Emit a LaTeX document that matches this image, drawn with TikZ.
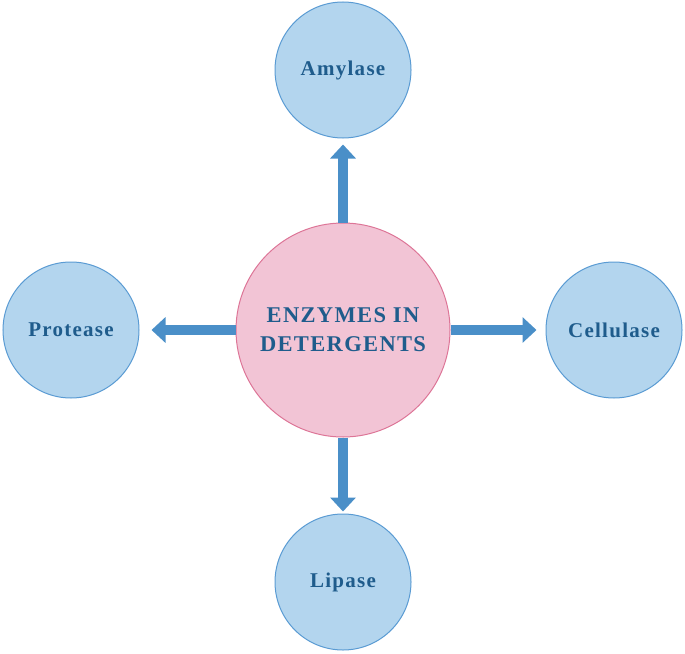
\documentclass[tikz,border=0pt]{standalone}
\usepackage{fontspec}
\setmainfont{Liberation Serif}[LetterSpace=6]
\usetikzlibrary{arrows.meta}
\definecolor{bfill}{HTML}{B3D5EE}
\definecolor{bline}{HTML}{5A9BD3}
\definecolor{arr}{HTML}{4A8FC8}
\definecolor{pfill}{HTML}{F2C4D5}
\definecolor{pline}{HTML}{DD7597}
\definecolor{txt}{HTML}{1F5C8C}
\begin{document}
\begin{tikzpicture}[x=1bp,y=-1bp,
  enz/.style={circle,draw=bline,fill=bfill,line width=1bp,minimum size=136bp,inner sep=0pt,
    font=\fontsize{21bp}{25bp}\selectfont\bfseries,text=txt},
  hub/.style={circle,draw=pline,fill=pfill,line width=1bp,minimum size=214bp,inner sep=0pt,
    font=\fontsize{22.5bp}{29bp}\selectfont\bfseries,text=txt,align=center},
  link/.style={arr,line width=10bp,-{Triangle[width=25bp,length=14bp]}}]
\useasboundingbox (0,0) rectangle (685,654);
\node[hub] (c) at (343,330) {ENZYMES IN\\DETERGENTS};
\node[enz] (a) at (343,70) {Amylase};
\node[enz] (p) at (71,330) {Protease};
\node[enz] (ce) at (614,330) {Cellulase};
\node[enz] (l) at (343,582) {Lipase};
\draw[link,shorten >=6bp] (c.north) -- (a.south);
\draw[link,shorten >=12bp] (c.west) -- (p.east);
\draw[link,shorten >=9bp] (c.east) -- (ce.west);
\draw[link,shorten >=2bp] (c.south) -- (l.north);
\end{tikzpicture}
\end{document}
